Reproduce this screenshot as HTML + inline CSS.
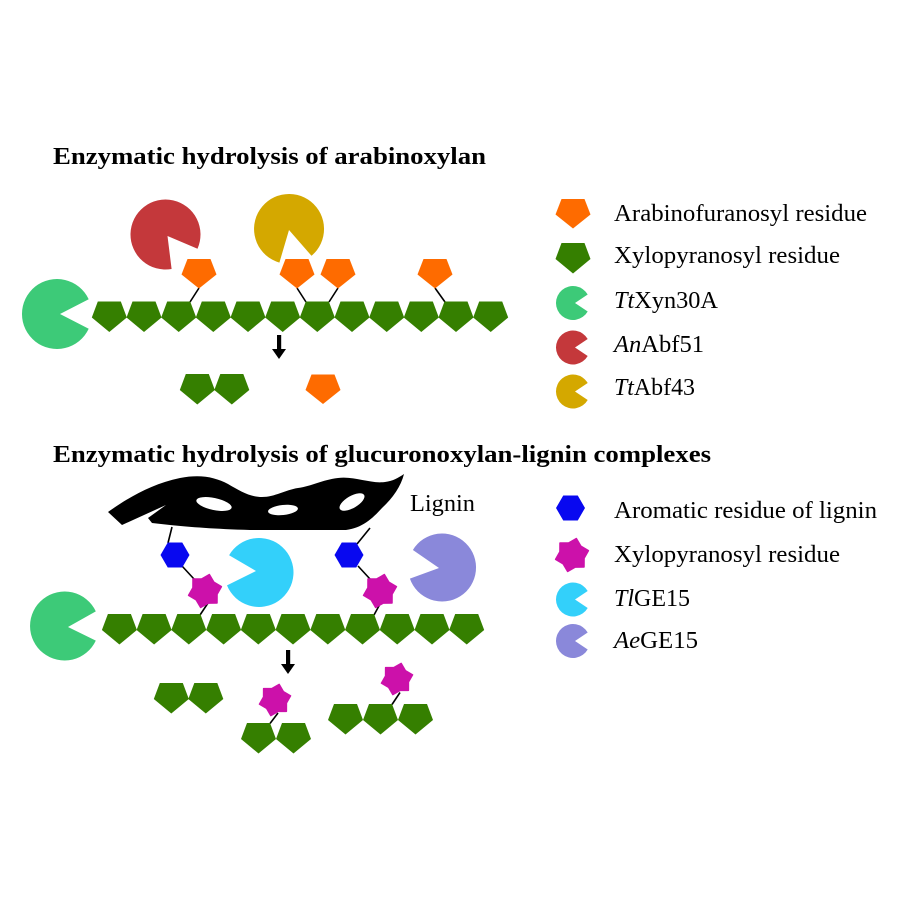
<!DOCTYPE html>
<html><head><meta charset="utf-8"><style>html,body{margin:0;padding:0;background:#fff}svg{display:block}</style></head>
<body>
<svg width="900" height="900" viewBox="0 0 900 900" xmlns="http://www.w3.org/2000/svg" xmlns:xlink="http://www.w3.org/1999/xlink">
<defs>
<path id="pg" d="M-11.5,0 L11.5,0 L17.5,16 L0,30.5 L-17.5,16 Z" fill="#357f00"/>
<path id="po" d="M-11.5,0 L11.5,0 L17.5,15.5 L0,29.5 L-17.5,15.5 Z" fill="#fe6b00"/>
<path id="st" d="M4.4,-16.42 L8.84,-8.84 L16.42,-4.4 L12.07,3.24 L12.02,12.02 L3.24,12.07 L-4.4,16.42 L-8.84,8.84 L-16.42,4.4 L-12.07,-3.24 L-12.02,-12.02 L-3.24,-12.07 Z" fill="#cc11aa" stroke="#cc11aa" stroke-width="1.5" stroke-linejoin="round"/>
<path id="hx" d="M-14.5,0 L-7.25,-12.5 L7.25,-12.5 L14.5,0 L7.25,12.5 L-7.25,12.5 Z" fill="#0808f0"/>
</defs>
<rect width="900" height="900" fill="#ffffff"/>

<!-- Titles -->
<text x="53" y="164" font-family="'Liberation Serif', serif" font-weight="bold" font-size="24" textLength="433" lengthAdjust="spacingAndGlyphs">Enzymatic hydrolysis of arabinoxylan</text>
<text x="53" y="462" font-family="'Liberation Serif', serif" font-weight="bold" font-size="24" textLength="658" lengthAdjust="spacingAndGlyphs">Enzymatic hydrolysis of glucuronoxylan-lignin complexes</text>

<!-- Section 1 enzymes -->
<path d="M60,314 L88.7,328.8 A35,35 0 1 1 88.7,299.2 Z" fill="#3dca78"/>
<path d="M167.5,236 L171.6,269 A35,35 0 1 1 197.5,248.7 Z" fill="#c4383b"/>
<path d="M289,230 L279.4,262.6 A35,35 0 1 1 311.5,255.8 Z" fill="#d4a800"/>

<!-- connectors section 1 -->
<g stroke="#000" stroke-width="1.6">
<line x1="199" y1="288" x2="190" y2="302"/>
<line x1="297" y1="288" x2="306" y2="302"/>
<line x1="338" y1="288" x2="329" y2="302"/>
<line x1="435" y1="288" x2="445" y2="302"/>
</g>

<!-- orange side residues -->
<use xlink:href="#po" x="199" y="259"/>
<use xlink:href="#po" x="297" y="259"/>
<use xlink:href="#po" x="338" y="259"/>
<use xlink:href="#po" x="435" y="259"/>

<!-- chain 1 -->
<use xlink:href="#pg" x="109.3" y="301.5"/>
<use xlink:href="#pg" x="144.0" y="301.5"/>
<use xlink:href="#pg" x="178.7" y="301.5"/>
<use xlink:href="#pg" x="213.3" y="301.5"/>
<use xlink:href="#pg" x="248.0" y="301.5"/>
<use xlink:href="#pg" x="282.7" y="301.5"/>
<use xlink:href="#pg" x="317.3" y="301.5"/>
<use xlink:href="#pg" x="352.0" y="301.5"/>
<use xlink:href="#pg" x="386.7" y="301.5"/>
<use xlink:href="#pg" x="421.3" y="301.5"/>
<use xlink:href="#pg" x="456.0" y="301.5"/>
<use xlink:href="#pg" x="490.7" y="301.5"/>

<!-- arrow 1 -->
<rect x="277" y="335" width="4.2" height="15" fill="#000"/>
<path d="M272,349 L286,349 L279,359 Z" fill="#000"/>

<!-- products 1 -->
<use xlink:href="#pg" x="197.3" y="374"/>
<use xlink:href="#pg" x="231.8" y="374"/>
<use xlink:href="#po" x="323" y="374.5"/>

<!-- Legend 1 -->
<use xlink:href="#po" x="573" y="199"/>
<use xlink:href="#pg" x="573" y="243"/>
<path d="M575,303 L587.7,311.5 A17,17 0 1 1 587.7,294.5 Z" fill="#3dca78"/>
<path d="M575,347.5 L587.7,356 A17,17 0 1 1 587.7,339 Z" fill="#c4383b"/>
<path d="M575,391.5 L587.7,400 A17,17 0 1 1 587.7,383 Z" fill="#d4a800"/>
<g font-family="'Liberation Serif', serif" font-size="24" fill="#000">
<text x="614" y="221" textLength="253" lengthAdjust="spacingAndGlyphs">Arabinofuranosyl residue</text>
<text x="614" y="263" textLength="226" lengthAdjust="spacingAndGlyphs">Xylopyranosyl residue</text>
<text x="614" y="308" textLength="104" lengthAdjust="spacingAndGlyphs"><tspan font-style="italic">Tt</tspan>Xyn30A</text>
<text x="614" y="352" textLength="90" lengthAdjust="spacingAndGlyphs"><tspan font-style="italic">An</tspan>Abf51</text>
<text x="614" y="395" textLength="81" lengthAdjust="spacingAndGlyphs"><tspan font-style="italic">Tt</tspan>Abf43</text>
</g>

<!-- Section 2: lignin ribbon (filled envelope with white eyes) -->
<path d="M108,512 C125,500 150,484 180,478 C200,474 215,477 228,484 C240,491 250,497 262,497 C275,497 285,490 298,488 C312,486 322,480 338,478 C355,476 370,484 385,482 C393,481 398,478 404,474 C401,486 393,498 382,508 C372,519 362,528 346,530 L250,530 C215,529 190,527 170,525 L152,523 L148,518 L166,505 L122,525 Z" fill="#000"/>
<g fill="#fff">
<ellipse cx="214" cy="504" rx="18" ry="6" transform="rotate(12 214 504)"/>
<ellipse cx="283" cy="510" rx="15" ry="5" transform="rotate(-6 283 510)"/>
<ellipse cx="352" cy="502" rx="14" ry="6" transform="rotate(-30 352 502)"/>
</g>
<text x="410" y="511" font-family="'Liberation Serif', serif" font-size="24" textLength="65" lengthAdjust="spacingAndGlyphs">Lignin</text>

<!-- connectors section 2 -->
<g stroke="#000" stroke-width="1.6">
<line x1="172" y1="527" x2="168" y2="543"/>
<line x1="182" y1="566" x2="194" y2="579"/>
<line x1="208" y1="603" x2="200" y2="615"/>
<line x1="370" y1="528" x2="357" y2="544"/>
<line x1="358" y1="566" x2="370" y2="579"/>
<line x1="380" y1="604" x2="374" y2="615"/>
</g>

<use xlink:href="#hx" x="175" y="555"/>
<use xlink:href="#hx" x="349" y="555"/>
<use xlink:href="#st" x="205" y="591"/>
<use xlink:href="#st" x="380" y="591"/>

<!-- enzymes section 2 -->
<path d="M256,571 L229.1,555.25 A34.5,34.5 0 1 1 227,585.4 Z" fill="#33d0fa"/>
<path d="M439,568 L412.9,550 A34,34 0 1 1 409.9,578.6 Z" fill="#8a88da"/>
<path d="M68,627 L95.8,640.6 A34.5,34.5 0 1 1 95.8,611.4 Z" fill="#3dca78"/>

<!-- chain 2 -->
<use xlink:href="#pg" x="119.4" y="614"/>
<use xlink:href="#pg" x="154.1" y="614"/>
<use xlink:href="#pg" x="188.8" y="614"/>
<use xlink:href="#pg" x="223.6" y="614"/>
<use xlink:href="#pg" x="258.3" y="614"/>
<use xlink:href="#pg" x="293.0" y="614"/>
<use xlink:href="#pg" x="327.8" y="614"/>
<use xlink:href="#pg" x="362.5" y="614"/>
<use xlink:href="#pg" x="397.2" y="614"/>
<use xlink:href="#pg" x="432.0" y="614"/>
<use xlink:href="#pg" x="466.7" y="614"/>

<!-- arrow 2 -->
<rect x="286" y="650" width="4.2" height="15" fill="#000"/>
<path d="M281,664 L295,664 L288,674 Z" fill="#000"/>

<!-- products 2 -->
<use xlink:href="#pg" x="171.3" y="683"/>
<use xlink:href="#pg" x="205.8" y="683"/>

<g stroke="#000" stroke-width="1.6">
<line x1="278" y1="713" x2="270" y2="723.5"/>
<line x1="400" y1="692.5" x2="392" y2="704.5"/>
</g>
<g transform="translate(275,700) scale(0.95)"><use xlink:href="#st"/></g>
<use xlink:href="#pg" x="258.5" y="723"/>
<use xlink:href="#pg" x="293.5" y="723"/>

<g transform="translate(397,679) scale(0.95)"><use xlink:href="#st"/></g>
<use xlink:href="#pg" x="345.5" y="704"/>
<use xlink:href="#pg" x="380.5" y="704"/>
<use xlink:href="#pg" x="415.5" y="704"/>

<!-- Legend 2 -->
<use xlink:href="#hx" x="570.5" y="508"/>
<use xlink:href="#st" x="572" y="555"/>
<path d="M575,599.5 L587.7,608 A17,17 0 1 1 587.7,591 Z" fill="#33d0fa"/>
<path d="M575,641 L587.7,649.5 A17,17 0 1 1 587.7,632.5 Z" fill="#8a88da"/>
<g font-family="'Liberation Serif', serif" font-size="24" fill="#000">
<text x="614" y="518" textLength="263" lengthAdjust="spacingAndGlyphs">Aromatic residue of lignin</text>
<text x="614" y="562" textLength="226" lengthAdjust="spacingAndGlyphs">Xylopyranosyl residue</text>
<text x="614" y="606" textLength="76" lengthAdjust="spacingAndGlyphs"><tspan font-style="italic">Tl</tspan>GE15</text>
<text x="614" y="648" textLength="84" lengthAdjust="spacingAndGlyphs"><tspan font-style="italic">Ae</tspan>GE15</text>
</g>
</svg>
</body></html>
